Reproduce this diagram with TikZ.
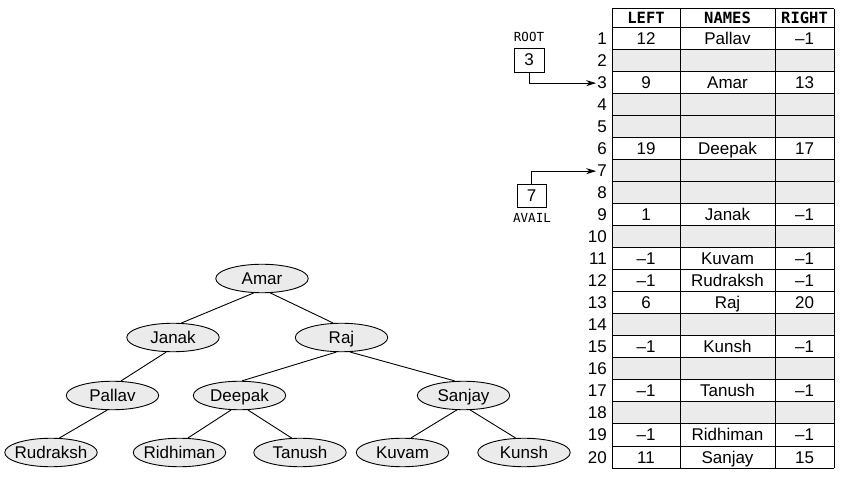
\documentclass[tikz,border=0pt]{standalone}
\usepackage{fontspec}
\setmainfont{Liberation Sans}
\newfontfamily\monofont{DejaVu Sans Mono}
\usetikzlibrary{arrows.meta,shapes.geometric}
\definecolor{cellgray}{HTML}{EBEBEB}
\begin{document}
\begin{tikzpicture}[x=1pt,y=-1pt,
  txt/.style={font=\fontsize{17}{19}\selectfont, inner sep=0pt},
  cell/.style={txt, anchor=base},
  rownum/.style={txt, anchor=base east, inner sep=1pt},
  hdr/.style={font=\monofont\bfseries\fontsize{15.5}{18}\selectfont, inner sep=0pt, anchor=base},
  lbl/.style={font=\monofont\fontsize{12.5}{14}\selectfont, inner sep=0pt, anchor=base},
  ptrbox/.style={draw, line width=0.9pt, minimum width=30pt, minimum height=24pt, inner sep=0pt, font=\fontsize{17}{19}\selectfont},
  tnode/.style={ellipse, draw, line width=0.9pt, fill=cellgray, minimum width=92.5pt, minimum height=28.5pt, inner xsep=-14pt, inner ysep=0pt, text height=12pt, text depth=0pt, font=\fontsize{17}{19}\selectfont},
  edge/.style={line width=0.9pt},
  ptr/.style={line width=0.9pt, -{Stealth[length=10pt,width=6pt]}},
  gridline/.style={line width=1pt}
]
\useasboundingbox (0,0) rectangle (852,478);

% table background
\foreach \r in {2,4,5,7,8,10,14,16,18}
  \fill[cellgray] (612,{28+(\r-1)*22}) rectangle (834,{28+\r*22});
% grid
\draw[gridline] (612,9) -- (834,9);
\foreach \i in {0,...,20}
  \draw[gridline] (612,{28+\i*22}) -- (834,{28+\i*22});
\foreach \x in {612,680,775,834}
  \draw[gridline] (\x,9) -- (\x,468);

% header
\node[hdr] (hleft) at (646,24) {LEFT};
\node[hdr] (hnames) at (727.5,24) {NAMES};
\node[hdr] (hright) at (804.5,24) {RIGHT};

% row numbers
\foreach \r in {1,...,20}
  \node[rownum] (r\r) at (608,{28+(\r-1)*22+17}) {\r};

% cells
\foreach \r/\l/\n/\rr in {1/12/Pallav/–1, 3/9/Amar/13, 6/19/Deepak/17, 9/1/Janak/–1,
  11/–1/Kuvam/–1, 12/–1/Rudraksh/–1, 13/6/Raj/20, 15/–1/Kunsh/–1,
  17/–1/Tanush/–1, 19/–1/Ridhiman/–1, 20/11/Sanjay/15}{
  \node[cell] (L\r) at (646,{28+(\r-1)*22+17}) {\l};
  \node[cell] (N\r) at (727.5,{28+(\r-1)*22+17}) {\n};
  \node[cell] (R\r) at (804.5,{28+(\r-1)*22+17}) {\rr};
}

% ROOT and AVAIL
\node[lbl] (rootlbl) at (529,41.5) {ROOT};
\node[ptrbox] (rootbox) at (529,60) {3};
\node[ptrbox, minimum width=29pt, minimum height=23pt] (availbox) at (531.5,195.5) {7};
\node[lbl] (availlbl) at (532,223) {AVAIL};
\draw[ptr] (rootbox.south) |- (r3.west);
\draw[ptr] (availbox.north) |- (r7.west);

% tree
\node[tnode] (amar) at (262,278.5) {Amar};
\node[tnode] (janak) at (173,337.5) {Janak};
\node[tnode] (raj) at (341.5,337.5) {Raj};
\node[tnode] (pallav) at (112.5,395.5) {Pallav};
\node[tnode] (deepak) at (239.5,395.5) {Deepak};
\node[tnode] (sanjay) at (463.5,395.5) {Sanjay};
\node[tnode] (rudraksh) at (51,452.5) {Rudraksh};
\node[tnode] (ridhiman) at (179.5,452.5) {Ridhiman};
\node[tnode] (tanush) at (300,452.5) {Tanush};
\node[tnode] (kuvam) at (402.5,452.5) {Kuvam};
\node[tnode] (kunsh) at (524,452.5) {Kunsh};

\draw[edge] (amar.240) -- (janak.60);
\draw[edge] (amar.300) -- (raj.120);
\draw[edge] (janak.245) -- (pallav.60);
\draw[edge] (pallav.250) -- (rudraksh.60);
\draw[edge] (raj.250) -- (deepak.80);
\draw[edge] (raj.300) -- (sanjay.120);
\draw[edge] (deepak.240) -- (ridhiman.60);
\draw[edge] (deepak.300) -- (tanush.120);
\draw[edge] (sanjay.245) -- (kuvam.60);
\draw[edge] (sanjay.295) -- (kunsh.120);
\end{tikzpicture}
\end{document}
